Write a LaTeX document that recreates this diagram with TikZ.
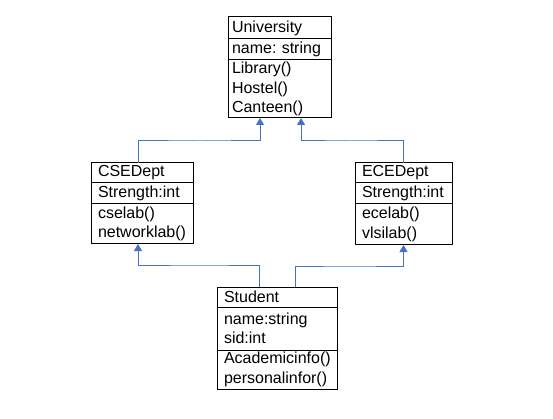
\documentclass[tikz,border=0pt]{standalone}
\usepackage{fontspec}
\setmainfont{Liberation Sans}
\usetikzlibrary{positioning, arrows.meta, calc}
\definecolor{umlblue}{HTML}{4472C4}
\frenchspacing
\begin{document}
\begin{tikzpicture}[x=1pt,y=-1pt]
		\tikzstyle{block} = [draw, line width=1pt, anchor=north west, outer sep=0pt,
		inner xsep=7pt, inner ysep=0pt, align=left, font=\fontsize{16}{19.5}\selectfont]
		\tikzstyle{generalize} = [draw=umlblue, line width=1pt, -{Triangle[width=8pt,length=7pt]}]
		
		\useasboundingbox (0,0) rectangle (553,419);
		
		\node [block, inner xsep=4pt, text width=95pt, minimum height=22pt] (v1) at (228,17) {University};
		\node [block, inner xsep=4pt, text width=95pt, minimum height=21pt] (v2) at (v1.south west) {name: string};
		\node [block, inner xsep=4pt, text width=95pt, minimum height=58pt] (v3) at (v2.south west) {Library()\\ Hostel()\\ Canteen()};
		\node [block, text width=88pt, minimum height=20pt] (v4) at (91,163) {CSEDept};
		\node [block, text width=88pt, minimum height=21pt] (v5) at (v4.south west) {Strength:int};
		\node [block, text width=88pt, minimum height=40pt] (v6) at (v5.south west) {cselab()\\ networklab()};
		\node [block, text width=83pt, minimum height=20pt] (v7) at (355,163) {ECEDept};
		\node [block, text width=83pt, minimum height=21pt] (v8) at (v7.south west) {Strength:int};
		\node [block, text width=83pt, minimum height=41pt] (v9) at (v8.south west) {ecelab()\\ vlsilab()};
		\node [block, text width=106pt, minimum height=20pt] (v10) at (217,287) {Student};
		\node [block, text width=106pt, minimum height=43pt] (v11) at (v10.south west) {name:string\\ sid:int};
		\node [block, text width=106pt, minimum height=39pt] (v12) at (v11.south west) {Academicinfo()\\ personalinfor()};
		\coordinate (c1) at (200,141);
		\coordinate (c2) at (350,141);
		\coordinate (c3) at (200,265);
		\coordinate (c4) at (350,266);
		\draw [generalize] ([xshift=-4pt]v4.north) |- (c1) -| ([xshift=-19.5pt]v3.south);
		\draw [generalize] (v7.north) |- (c2) -| ([xshift=21.5pt]v3.south);
		\draw [generalize] ([xshift=-18pt]v10.north) |- (c3) -| ([xshift=-4pt]v6.south);
		\draw [generalize] ([xshift=18pt]v10.north) |- (c4) -| (v9.south);
		\end{tikzpicture}
\end{document}
